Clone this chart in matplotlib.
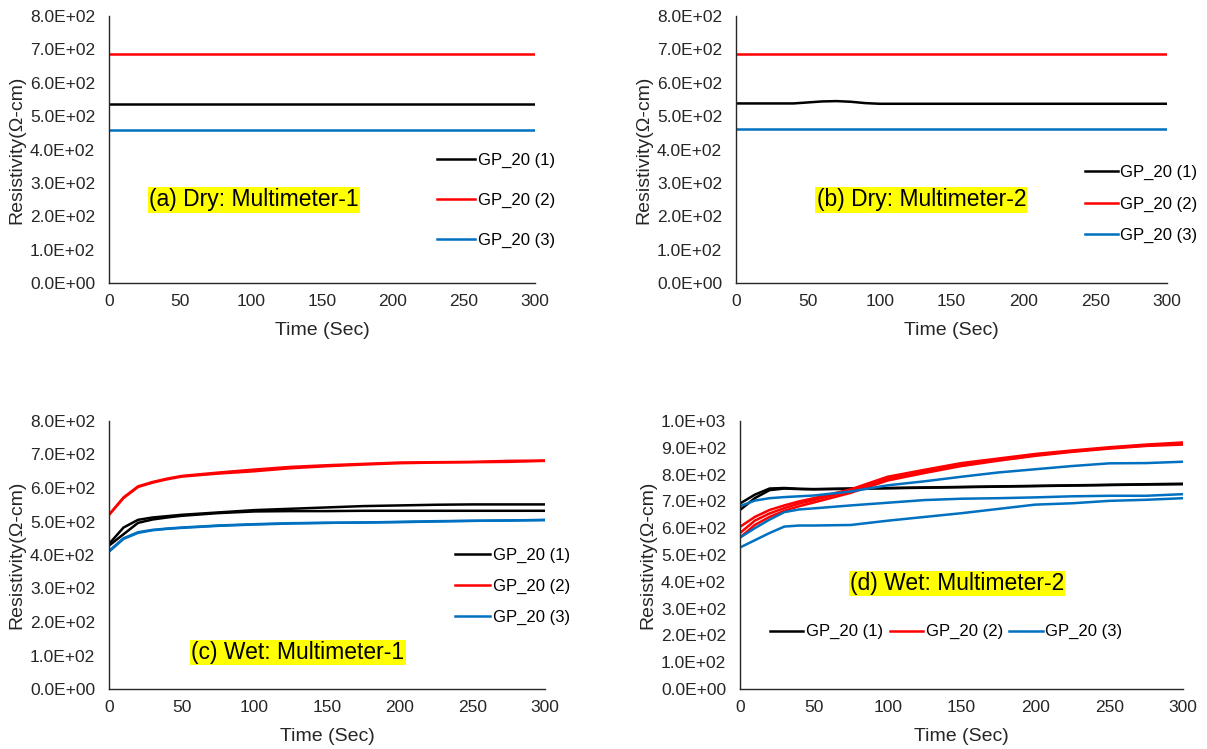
import matplotlib
matplotlib.use("Agg")
import matplotlib.pyplot as plt
from matplotlib.ticker import FuncFormatter, MultipleLocator

plt.rcParams['font.family'] = ['Liberation Sans', 'DejaVu Sans']

BLACK = '#000000'
RED = '#FF0000'
BLUE = '#0070C0'
labels = ['GP_20 (1)', 'GP_20 (2)', 'GP_20 (3)']

# ---- Dry tests (constant readings) ----
dry_t = [0, 300]
dry1_gp1 = [536, 536]
dry1_gp2 = [686, 686]
dry1_gp3 = [458, 458]

dry2_t_gp1 = [0, 40, 50, 60, 70, 80, 90, 100, 300]
dry2_gp1 = [538, 538, 541, 544, 545, 543, 539, 537, 537]
dry2_gp2 = [686, 686]
dry2_gp3 = [461, 461]

# ---- Wet tests (repeated readings per specimen) ----
wet_t = [0, 10, 20, 30, 40, 50, 75, 100, 125, 150, 175, 200, 225, 250, 275, 300]

wet1_gp1 = [
    [433, 482, 505, 512, 516, 520, 527, 534, 538, 542, 546, 548, 550, 551, 551, 551],
    [428, 462, 496, 506, 512, 517, 525, 530, 531, 531, 532, 532, 532, 532, 532, 532],
]
wet1_gp2 = [
    [520, 572, 605, 618, 628, 636, 646, 655, 663, 668, 672, 676, 677, 678, 681, 682],
    [520, 570, 603, 616, 626, 634, 643, 650, 659, 665, 670, 674, 676, 677, 678, 681],
]
wet1_gp3 = [
    [412, 450, 468, 475, 479, 482, 488, 492, 495, 496, 497, 498, 500, 502, 503, 504],
    [410, 448, 466, 474, 478, 481, 487, 491, 494, 496, 497, 499, 501, 502, 503, 505],
]

wet2_gp1 = [
    [692, 725, 748, 750, 747, 746, 748, 750, 752, 754, 756, 758, 760, 762, 764, 766],
    [668, 712, 742, 748, 746, 745, 747, 749, 751, 753, 755, 757, 759, 761, 763, 764],
]
wet2_gp2 = [
    [605, 642, 668, 685, 700, 712, 745, 792, 818, 843, 860, 877, 890, 902, 912, 920],
    [582, 628, 655, 675, 692, 705, 740, 785, 812, 838, 856, 873, 887, 899, 909, 916],
    [565, 612, 642, 665, 682, 696, 732, 778, 806, 832, 852, 870, 885, 897, 907, 912],
]
wet2_gp3 = [
    [682, 703, 712, 716, 719, 722, 737, 760, 775, 792, 808, 820, 832, 842, 843, 848],
    [565, 600, 632, 660, 670, 674, 685, 695, 705, 710, 712, 715, 719, 721, 721, 727],
    [528, 555, 582, 606, 610, 610, 612, 628, 642, 656, 672, 688, 693, 702, 706, 712],
]

fig = plt.figure(figsize=(12.07, 7.49), dpi=100)

W, H = 1207, 749
def box(l, r, t, b):
    return [l / W, 1 - b / H, (r - l) / W, (b - t) / H]

ax_a = fig.add_axes(box(109, 535, 16, 283))
ax_b = fig.add_axes(box(736, 1167, 16, 283))
ax_c = fig.add_axes(box(109, 545, 421, 689))
ax_d = fig.add_axes(box(740, 1183, 421, 689))

sci = FuncFormatter(lambda v, p: f"{v:.1E}")
LW = 1.8
INK = '#262626'

def style(ax, ymax):
    ax.set_xlim(0, 300)
    ax.set_ylim(0, ymax)
    ax.xaxis.set_major_locator(MultipleLocator(50))
    ax.yaxis.set_major_locator(MultipleLocator(100))
    ax.yaxis.set_major_formatter(sci)
    for s in ('top', 'right'):
        ax.spines[s].set_visible(False)
    for s in ('left', 'bottom'):
        ax.spines[s].set_color(INK)
        ax.spines[s].set_linewidth(1.0)
    ax.tick_params(length=0, labelsize=12.5, colors=INK)
    ax.tick_params(axis='y', pad=10)
    ax.tick_params(axis='x', pad=8)
    ax.set_xlabel('Time (Sec)', fontsize=14, color=INK, labelpad=9)
    ax.set_ylabel('Resistivity(Ω-cm)', fontsize=14, color=INK, labelpad=3)

def tag(ax, x, y, txt):
    ax.text(x, y, txt, fontsize=16.5, ha='center', va='center',
            bbox=dict(boxstyle='square,pad=0.05', fc='#FFFF00', ec='none'))

LEG = dict(frameon=False, fontsize=12, handletextpad=0.15,
           borderaxespad=0, borderpad=0, loc='center left')

# (a)
ax_a.plot(dry_t, dry1_gp1, color=BLACK, lw=LW, label=labels[0])
ax_a.plot(dry_t, dry1_gp2, color=RED, lw=LW, label=labels[1])
ax_a.plot(dry_t, dry1_gp3, color=BLUE, lw=LW, label=labels[2])
style(ax_a, 800)
tag(ax_a, 102, 249, '(a) Dry: Multimeter-1')
ax_a.legend(bbox_to_anchor=(0.77, 0.31), labelspacing=1.5, handlelength=2.3, **LEG)

# (b)
ax_b.plot(dry2_t_gp1, dry2_gp1, color=BLACK, lw=LW, label=labels[0])
ax_b.plot(dry_t, dry2_gp2, color=RED, lw=LW, label=labels[1])
ax_b.plot(dry_t, dry2_gp3, color=BLUE, lw=LW, label=labels[2])
style(ax_b, 800)
tag(ax_b, 129, 249, '(b) Dry: Multimeter-2')
ax_b.legend(bbox_to_anchor=(0.81, 0.296), labelspacing=1.0, handlelength=1.95, **LEG)

# (c)
for i, y in enumerate(wet1_gp1):
    ax_c.plot(wet_t, y, color=BLACK, lw=LW, label=labels[0] if i == 0 else None)
for i, y in enumerate(wet1_gp2):
    ax_c.plot(wet_t, y, color=RED, lw=LW, label=labels[1] if i == 0 else None)
for i, y in enumerate(wet1_gp3):
    ax_c.plot(wet_t, y, color=BLUE, lw=LW, label=labels[2] if i == 0 else None)
style(ax_c, 800)
tag(ax_c, 130, 110, '(c) Wet: Multimeter-1')
ax_c.legend(bbox_to_anchor=(0.794, 0.384), labelspacing=0.95, handlelength=2.1, **LEG)

# (d)
for i, y in enumerate(wet2_gp1):
    ax_d.plot(wet_t, y, color=BLACK, lw=LW, label=labels[0] if i == 0 else None)
for i, y in enumerate(wet2_gp2):
    ax_d.plot(wet_t, y, color=RED, lw=LW, label=labels[1] if i == 0 else None)
for i, y in enumerate(wet2_gp3):
    ax_d.plot(wet_t, y, color=BLUE, lw=LW, label=labels[2] if i == 0 else None)
style(ax_d, 1000)
tag(ax_d, 147, 394, '(d) Wet: Multimeter-2')
ax_d.legend(bbox_to_anchor=(0.068, 0.213), ncol=3, columnspacing=0.4,
            handlelength=2.0, **LEG)

fig.savefig('out.png', dpi=100, facecolor='white')
